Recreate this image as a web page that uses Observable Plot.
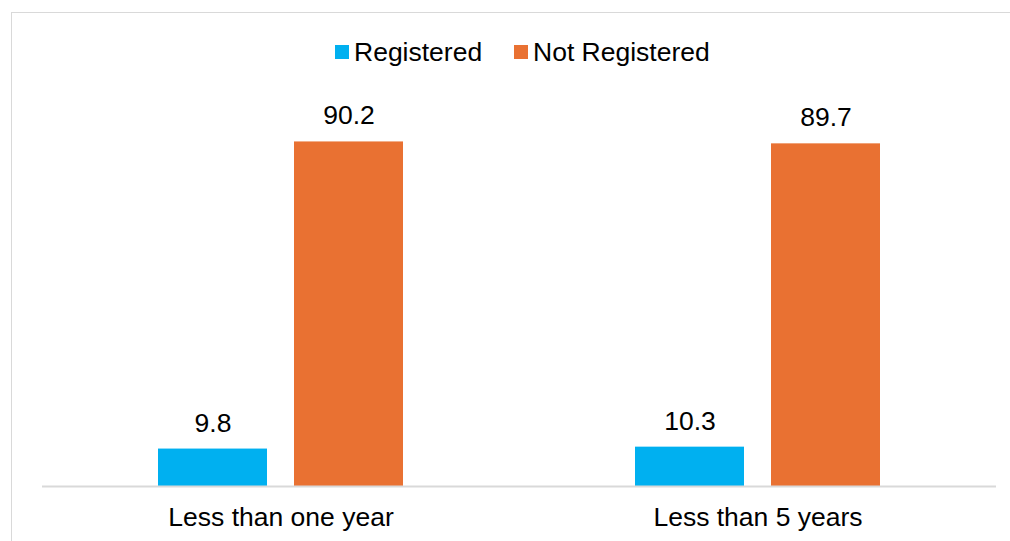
<!DOCTYPE html>
<html>
<head>
<meta charset="utf-8">
<script src="https://cdn.jsdelivr.net/npm/d3@7"></script>
<script src="https://cdn.jsdelivr.net/npm/@observablehq/plot@0.6"></script>
<style>
  html, body { margin: 0; padding: 0; background: #fff; width: 1010px; height: 541px; overflow: hidden; }
  body { position: relative; font-family: "Liberation Sans", Arial, sans-serif; }
  #frame { position: absolute; left: 11px; top: 12px; width: 1100px; height: 700px; border: 1.5px solid #d9d9d9; box-sizing: border-box; }
  #legend { position: relative; height: 80px; }
  .item { position: absolute; top: 39px; font-size: 26.5px; line-height: 26px; color: #000; white-space: nowrap; }
  .sw { position: absolute; top: 45px; width: 14px; height: 14px; }
  #chart { position: relative; }
</style>
</head>
<body>
<div id="frame"></div>
<div id="legend"></div>
<div id="chart"></div>
<script>
const categories = ["Less than one year", "Less than 5 years"];
const series = ["Registered", "Not Registered"];
const registered = [9.8, 10.3];
const notRegistered = [90.2, 89.7];
const colors = ["#00B0F0", "#E97132"];

const data = [];
categories.forEach((c, i) => {
  data.push({category: c, series: series[0], value: registered[i]});
  data.push({category: c, series: series[1], value: notRegistered[i]});
});

// legend
const legend = document.getElementById("legend");
const legendLeft = [335, 514];
series.forEach((s, i) => {
  const sw = document.createElement("div");
  sw.className = "sw";
  sw.style.left = legendLeft[i] + "px";
  sw.style.background = colors[i];
  legend.appendChild(sw);
  const t = document.createElement("div");
  t.className = "item";
  t.style.left = (legendLeft[i] + 19) + "px";
  t.textContent = s;
  legend.appendChild(t);
});

const chart = Plot.plot({
  width: 1010,
  height: 461,
  marginLeft: 41,
  marginRight: 14,
  marginTop: 24,
  marginBottom: 55,
  style: {fontFamily: "'Liberation Sans', Arial, sans-serif", fontSize: "26.5px", color: "#000", background: "transparent"},
  fx: {domain: categories, padding: 0, label: null, tickSize: 0, tickPadding: 21},
  x: {domain: series, paddingInner: 0.2, paddingOuter: 0.85, axis: null},
  y: {domain: [0, 100], axis: null},
  color: {domain: series, range: colors},
  marks: [
    Plot.barY(data, {fx: "category", x: "series", y: "value", fill: "series"}),
    Plot.text(data, {fx: "category", x: "series", y: "value", text: d => d.value.toFixed(1), dy: -26, fill: "#000", fontSize: 26.5}),
    Plot.ruleY([0], {stroke: "#d9d9d9", strokeWidth: 2})
  ]
});
document.getElementById("chart").appendChild(chart);
</script>
</body>
</html>
